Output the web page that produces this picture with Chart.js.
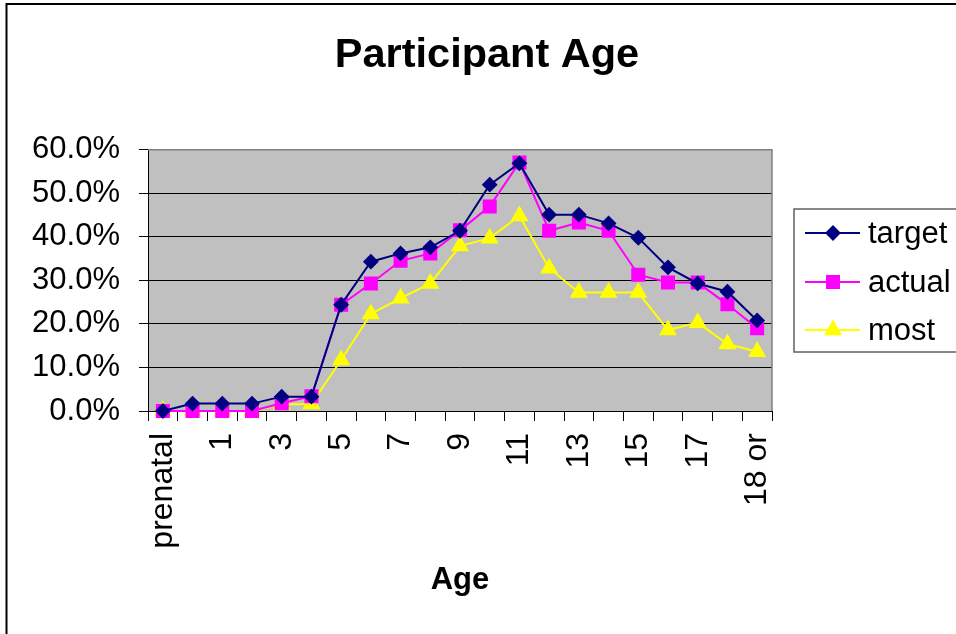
<!DOCTYPE html>
<html>
<head>
<meta charset="utf-8">
<title>Participant Age</title>
<script src="https://cdn.jsdelivr.net/npm/chart.js@4.4.1/dist/chart.umd.min.js"></script>
<style>
  html, body { margin: 0; padding: 0; background: #fff; }
  #wrap { width: 956px; height: 634px; }
</style>
</head>
<body>
<div id="wrap"><canvas id="ageChart" width="956" height="634"></canvas></div>
<script>
// categories (every other one is labelled on the axis)
const ages = ["prenatal", "0", "1", "2", "3", "4", "5", "6", "7", "8", "9", "10",
  "11", "12", "13", "14", "15", "16", "17", "18", "18 or"];

// percent values
const target = [0, 1.7, 1.7, 1.7, 3.3, 3.3, 24.4, 34.3, 36.2, 37.6, 41.4, 52.0,
  56.9, 45.1, 45.1, 43.1, 39.8, 33.0, 29.3, 27.4, 20.8];
const actual = [0, 0, 0, 0, 1.8, 3.4, 24.4, 29.3, 34.5, 36.2, 41.5, 47.0,
  57.1, 41.4, 43.3, 41.4, 31.3, 29.5, 29.5, 24.5, 19.0];
const most = [0, 0, 0, 0, 1.5, 1.6, 11.7, 22.3, 25.9, 29.3, 37.9, 39.7,
  44.8, 32.8, 27.2, 27.2, 27.2, 18.6, 20.3, 15.4, 13.6];

const yTicks = [0, 10, 20, 30, 40, 50, 60];

const FONT = "'Liberation Sans', Arial, sans-serif";

// plot background, its grey border, the outer frame and the legend box
const excelLook = {
  id: "excelLook",
  beforeDraw(chart) {
    const { ctx, chartArea: a } = chart;
    ctx.save();
    ctx.fillStyle = "#fff";
    ctx.fillRect(0, 0, chart.width, chart.height);
    ctx.fillStyle = "#c0c0c0";
    ctx.fillRect(a.left, a.top, a.right - a.left, a.bottom - a.top);
    ctx.restore();
  },
  beforeDatasetsDraw(chart) {
    const { ctx, chartArea: a } = chart;
    ctx.save();
    ctx.strokeStyle = "#808080";
    ctx.lineWidth = 1.5;
    ctx.beginPath();
    ctx.moveTo(a.left, a.top);
    ctx.lineTo(a.right, a.top);
    ctx.lineTo(a.right, a.bottom);
    ctx.stroke();
    ctx.restore();
  },
  afterDraw(chart) {
    const ctx = chart.ctx;
    ctx.save();
    // outer frame
    ctx.strokeStyle = "#000";
    ctx.lineWidth = 2;
    ctx.strokeRect(6.5, 4, 1200, 1200);

    // legend
    ctx.strokeStyle = "#606060";
    ctx.lineWidth = 1.5;
    ctx.fillStyle = "#fff";
    ctx.fillRect(794, 209, 300, 143);
    ctx.strokeRect(794, 209, 300, 143);
    const rows = [233, 282, 330];
    ctx.font = "31px " + FONT;
    ctx.textBaseline = "middle";
    chart.data.datasets.forEach((ds, i) => {
      const y = rows[i];
      ctx.strokeStyle = ds.borderColor;
      ctx.lineWidth = 2;
      ctx.beginPath();
      ctx.moveTo(805, y);
      ctx.lineTo(860, y);
      ctx.stroke();
      ctx.fillStyle = ds.backgroundColor;
      Chart.helpers.drawPoint(ctx, {
        pointStyle: ds.pointStyle,
        radius: ds.pointRadius,
        rotation: 0,
        borderWidth: 1
      }, 833, y);
      ctx.fillStyle = "#000";
      ctx.fillText(ds.label, 868, y + 1);
    });
    ctx.restore();
  }
};

const ctx = document.getElementById("ageChart");

new Chart(ctx, {
  type: "line",
  data: {
    labels: ages,
    datasets: [
      {
        label: "target",
        data: target,
        borderColor: "#000080",
        backgroundColor: "#000080",
        pointStyle: "rectRot",
        pointRadius: 6.5,
        borderWidth: 2,
        clip: false
      },
      {
        label: "actual",
        data: actual,
        borderColor: "#ff00ff",
        backgroundColor: "#ff00ff",
        pointStyle: "rect",
        pointRadius: 8.5,
        borderWidth: 2,
        clip: false
      },
      {
        label: "most",
        data: most,
        borderColor: "#ffff00",
        backgroundColor: "#ffff00",
        pointStyle: "triangle",
        pointRadius: 8.5,
        borderWidth: 2,
        clip: false
      }
    ]
  },
  options: {
    responsive: false,
    animation: false,
    events: [],
    layout: { padding: { left: 18, right: 0, top: 0, bottom: 0 } },
    elements: { line: { tension: 0 } },
    plugins: {
      legend: { display: false },
      tooltip: { enabled: false },
      title: {
        display: true,
        text: "Participant Age",
        color: "#000",
        font: { family: FONT, size: 41.5, weight: "bold" },
        padding: { top: 31, bottom: 69 }
      }
    },
    scales: {
      x: {
        offset: true,
        grid: {
          offset: true,
          drawOnChartArea: false,
          drawTicks: true,
          tickLength: 10,
          color: "#000"
        },
        border: { color: "#000", width: 1 },
        ticks: {
          autoSkip: false,
          minRotation: 90,
          maxRotation: 90,
          padding: 12,
          color: "#000",
          font: { family: FONT, size: 32 },
          callback: function (val, i) {
            return i % 2 === 0 ? this.getLabelForValue(val) : "";
          }
        },
        title: {
          display: true,
          text: "Age",
          color: "#000",
          font: { family: FONT, size: 31, weight: "bold" },
          padding: { top: 0, bottom: 35 }
        },
        afterFit(scale) { scale.height = 223; }
      },
      y: {
        min: yTicks[0],
        max: yTicks[yTicks.length - 1],
        grid: { color: "#000", lineWidth: 1, tickLength: 9 },
        border: { color: "#000", width: 1 },
        ticks: {
          stepSize: 10,
          padding: 19,
          color: "#000",
          font: { family: FONT, size: 31 },
          callback: (v) => v.toFixed(1) + "%"
        },
        afterFit(scale) { scale.width = 130; }
      },
      // empty right-hand axis: keeps room for the legend
      yRight: {
        position: "right",
        min: 0,
        max: 60,
        grid: { drawOnChartArea: false, drawTicks: false },
        border: { display: false },
        ticks: { display: false },
        afterFit(scale) { scale.width = 184; }
      }
    }
  },
  plugins: [excelLook]
});
</script>
</body>
</html>
